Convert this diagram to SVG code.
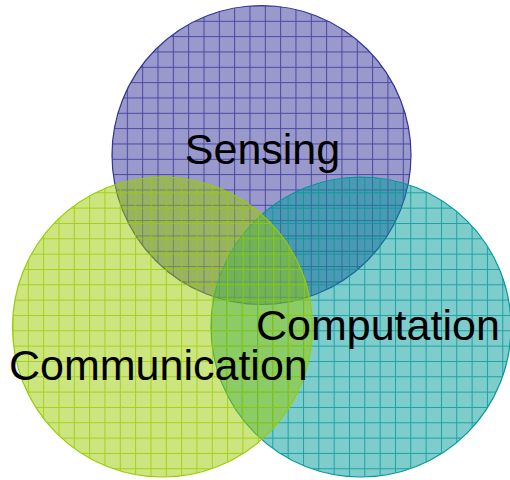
<svg xmlns="http://www.w3.org/2000/svg" width="510" height="480" viewBox="0 0 510 480">
  <style>
    .lbl { font-family: "Liberation Sans", Arial, sans-serif; font-size: 43px; fill: #000000; }
    .edge { fill: none; stroke-width: 1.2; }
    .grid { fill: none; stroke-width: 1; stroke-opacity: 0.8; }
  </style>
  <defs>
    <pattern id="gridS" patternUnits="userSpaceOnUse" x="111.5" y="5.5" width="15.33" height="15.33">
      <path class="grid" d="M0 0.5 H15.33 M0.5 0 V15.33" stroke="#333399"/>
    </pattern>
    <pattern id="gridC" patternUnits="userSpaceOnUse" x="211" y="177" width="15.33" height="15.33">
      <path class="grid" d="M0 0.5 H15.33 M0.5 0 V15.33" stroke="#009999"/>
    </pattern>
    <pattern id="gridM" patternUnits="userSpaceOnUse" x="12.5" y="177" width="15.33" height="15.33">
      <path class="grid" d="M0 0.5 H15.33 M0.5 0 V15.33" stroke="#99cc00"/>
    </pattern>
  </defs>

  <g id="sensing">
    <circle cx="261.5" cy="155" r="149.5" fill="#333399" fill-opacity="0.5"/>
    <circle cx="261.5" cy="155" r="149.5" fill="url(#gridS)"/>
    <circle cx="261.5" cy="155" r="149.5" class="edge" stroke="#333399"/>
  </g>

  <g id="computation">
    <circle cx="361" cy="327" r="150" fill="#009999" fill-opacity="0.5"/>
    <circle cx="361" cy="327" r="150" fill="url(#gridC)"/>
    <circle cx="361" cy="327" r="150" class="edge" stroke="#009999"/>
  </g>

  <g id="communication">
    <circle cx="162.5" cy="327" r="150" fill="#99cc00" fill-opacity="0.5"/>
    <circle cx="162.5" cy="327" r="150" fill="url(#gridM)"/>
    <circle cx="162.5" cy="327" r="150" class="edge" stroke="#99cc00"/>
  </g>

  <g id="labels">
    <text class="lbl" x="262.5" y="164" text-anchor="middle">Sensing</text>
    <text class="lbl" x="256" y="340">Computation</text>
    <text class="lbl" x="9" y="380">Communication</text>
  </g>
</svg>
